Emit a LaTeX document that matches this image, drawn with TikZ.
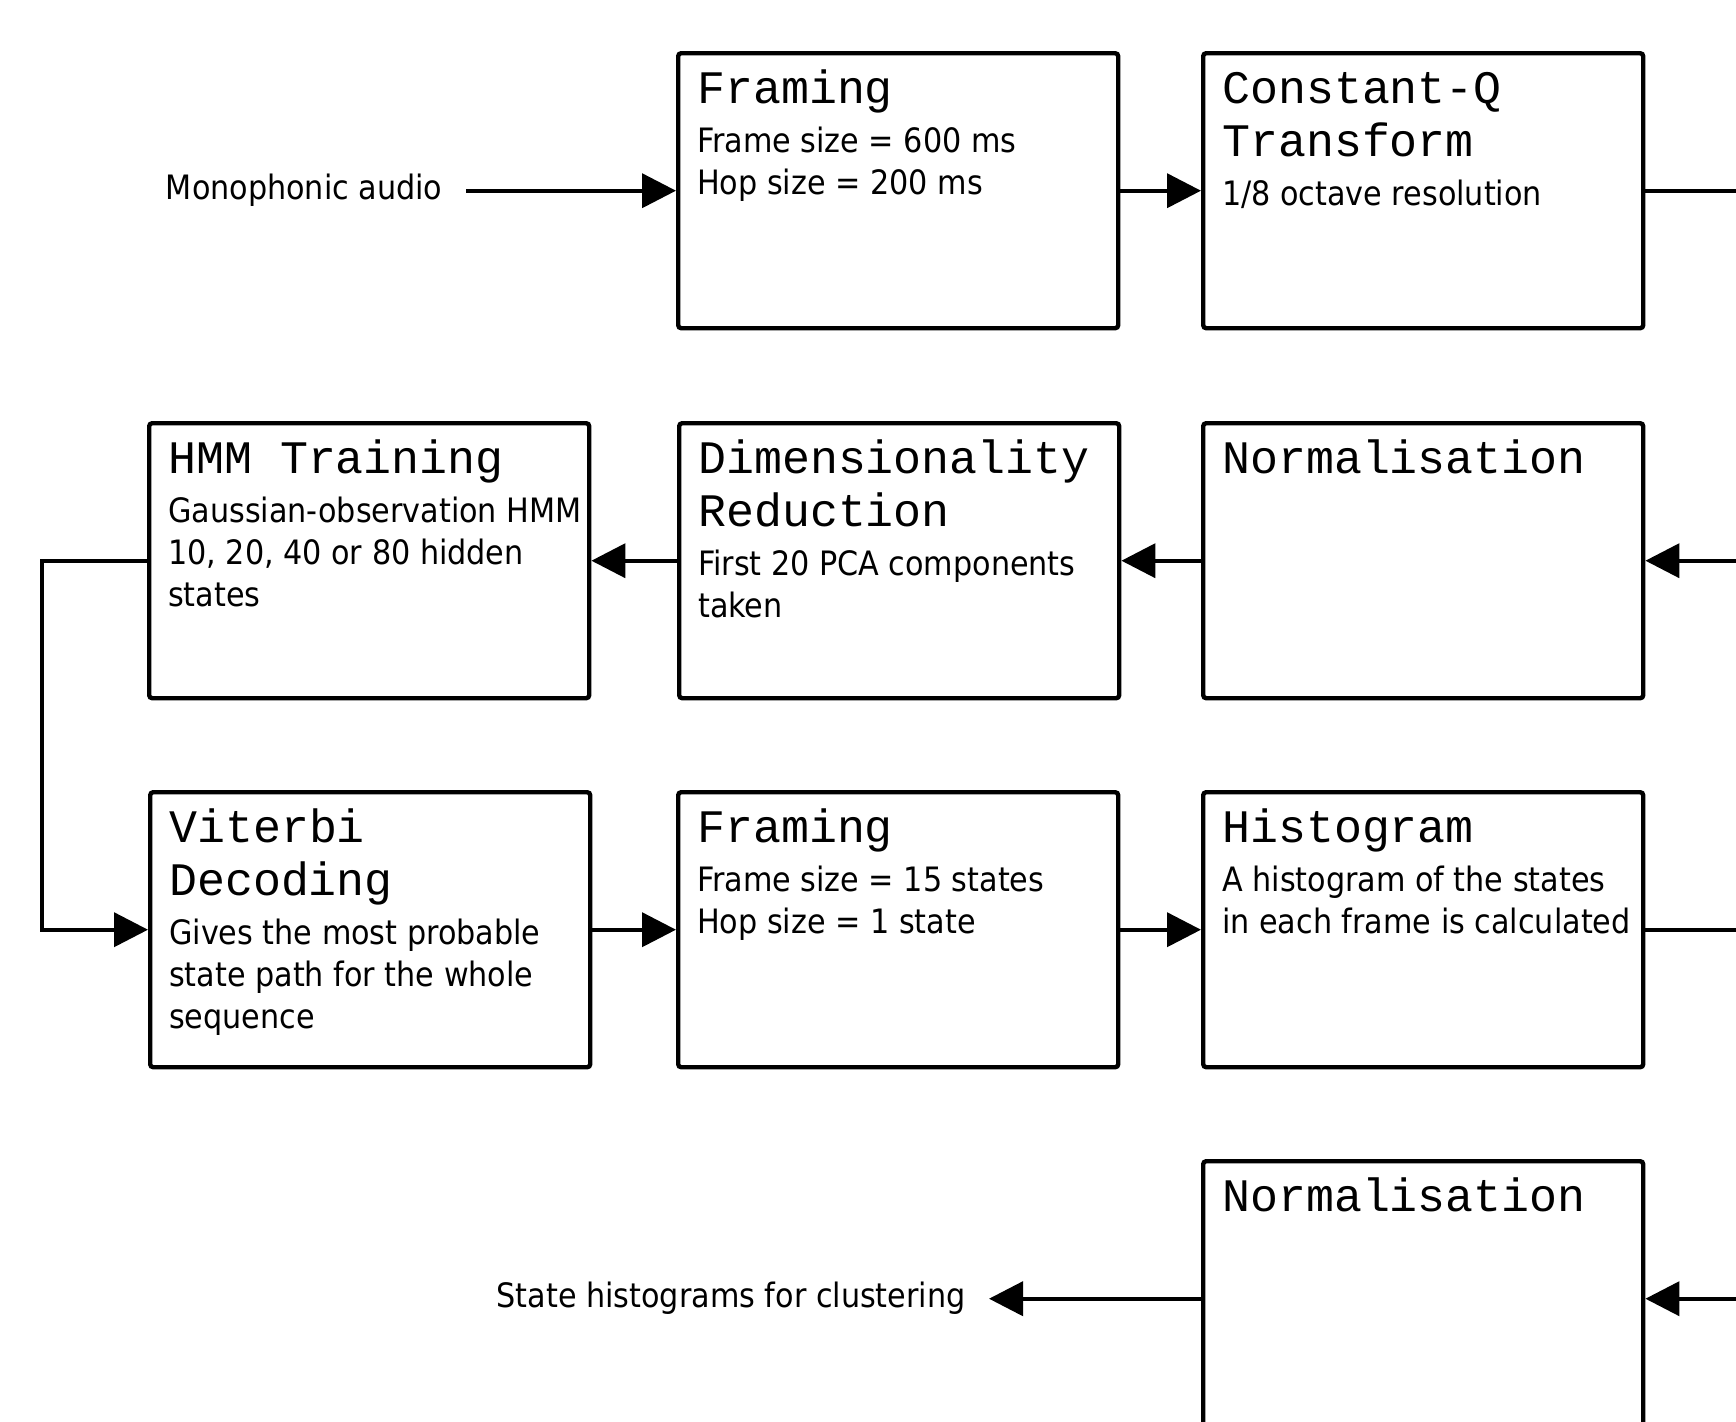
\documentclass[tikz,border=0pt]{standalone}
\usepackage{fontspec}
\setmainfont{DejaVu Sans Condensed}
\newfontfamily\stagemono{Liberation Mono}
\usetikzlibrary{arrows.meta,positioning}

\newcommand\titlefont{\stagemono\fontsize{23.3pt}{26.5pt}\selectfont}
\newcommand\bodyfont{\fontsize{16.8pt}{21pt}\selectfont}
% box text: title in mono, then the notes, set from the top left
\newcommand\stagebox[2]{\parbox[t][137.5pt][t]{220pt}{\leftskip=9.5pt\rightskip=0pt plus 1fil
  {\titlefont\rule{0pt}{25pt}#1\par}\vspace{3.5pt}{\bodyfont #2\par}}}

\tikzset{
  stage/.style={draw, line width=2.2pt, rounded corners=1.5pt, anchor=north west,
    inner sep=0pt, minimum width=220pt},
  lbl/.style={font=\bodyfont, inner xsep=11.5pt, inner ysep=0pt},
  arr/.style={-{Triangle[length=17pt,width=17pt]}, line width=2pt},
  link/.style={line width=2pt}
}

\begin{document}
\begin{tikzpicture}[x=0.5pt, y=-0.5pt]
    \useasboundingbox (0,0) rectangle (1736,1421);
    \clip (0,0) rectangle (1736,1421);

    % first row
    \node[stage] (frame) at (676,51) {\stagebox{Framing}{Frame size = 600 ms\\Hop size = 200 ms}};
    \node[stage] (cqt) at (1201,51) {\stagebox{Constant-Q\\Transform}{1/8 octave resolution}};

    % second row
    \node[stage] (hmm) at (147,421) {\stagebox{HMM Training}{Gaussian-observation HMM\\10, 20, 40 or 80 hidden\\states}};
    \node[stage] (pca) at (677,421) {\stagebox{Dimensionality\\Reduction}{First 20 PCA components\\taken}};
    \node[stage] (norma) at (1201,421) {\stagebox{Normalisation}{}};

    % third row
    \node[stage] (vit) at (148,790) {\stagebox{Viterbi\\Decoding}{Gives the most probable\\state path for the whole\\sequence}};
    \node[stage] (frameb) at (676,790) {\stagebox{Framing}{Frame size = 15 states\\Hop size = 1 state}};
    \node[stage] (hist) at (1201,790) {\stagebox{Histogram}{A histogram of the states\\in each frame is calculated}};

    % last row
    \node[stage] (normb) at (1201,1159) {\stagebox{Normalisation}{}};

    % input and output
    \node[lbl, left=105pt of frame] (audio) {Monophonic audio};
    \node[lbl, left=106pt of normb] (result) {State histograms for clustering};

    % links leave past the right edge
    \coordinate (rim) at (1750,0);

    \draw[arr] (audio.east) -- (frame.west);
    \draw[arr] (frame.east) -- (cqt.west);
    \draw[link] (cqt.east) -- (cqt.east -| rim);
    \draw[arr] (norma.east -| rim) -- (norma.east);
    \draw[arr] (norma.west) -- (pca.east);
    \draw[arr] (pca.west) -- (hmm.east);
    \draw[arr] (hmm.west) -- ++(-105,0) |- (vit.west);
    \draw[arr] (vit.east) -- (frameb.west);
    \draw[arr] (frameb.east) -- (hist.west);
    \draw[link] (hist.east) -- (hist.east -| rim);
    \draw[arr] (normb.east -| rim) -- (normb.east);
    \draw[arr] (normb.west) -- (result.east);

\end{tikzpicture}
\end{document}
